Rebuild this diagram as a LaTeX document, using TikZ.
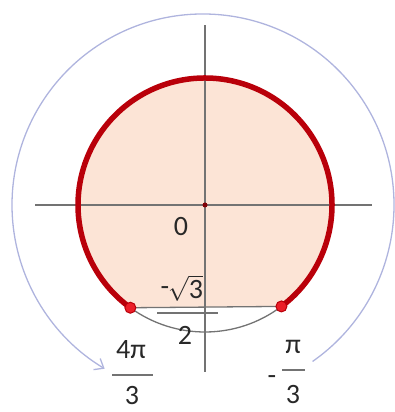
\documentclass[tikz,border=0pt]{standalone}
\usepackage{fontspec}
\setmainfont{Carlito}
\usetikzlibrary{arrows.meta}
\definecolor{rim}{RGB}{185,0,10}
\definecolor{peach}{RGB}{252,228,214}
\definecolor{lav}{RGB}{175,180,222}
\definecolor{axisgray}{RGB}{115,115,115}
\definecolor{dotred}{RGB}{235,30,40}
\definecolor{ink}{RGB}{40,40,40}
\begin{document}
\begin{tikzpicture}[x=1pt,y=1pt,
  lbl/.style={inner sep=0pt, font=\fontsize{28}{30}\selectfont, text=ink},
  fracbar/.style={draw=axisgray, line width=1.3pt},
  axisline/.style={draw=axisgray, line width=1.4pt},
  pointdot/.style={circle, fill=dotred, draw=rim, line width=1pt, minimum size=11pt, inner sep=0pt}]
\useasboundingbox (0,0) rectangle (395,412);
\coordinate (O) at (205,207);
\coordinate (C2) at (203,207);
% filled region
\fill[peach] (O) ++(307:127) arc[start angle=307, end angle=594, radius=127] -- cycle;
% outer arrow arc
\draw[lav, line width=1.3pt, -{Straight Barb[length=8pt,width=13pt]}] (C2) ++(-55:191) arc[start angle=-55, end angle=239, radius=191];
% axes
\coordinate (xl) at (35,207);
\coordinate (xr) at (372,207);
\coordinate (yt) at (205,387);
\coordinate (yb) at (205,40);
\draw[axisline] (xl) -- (xr);
\draw[axisline] (yb) -- (yt);
% points
\path (O) ++(234:127) coordinate (L);
\path (O) ++(307:127) coordinate (R);
% chord and lower arc
\draw[axisgray, line width=1.3pt] (L) -- (R);
\draw[axisgray, line width=1.3pt] (L) arc[start angle=234, end angle=307, radius=127];
% thick red arc
\draw[rim, line width=5.5pt] (R) arc[start angle=307, end angle=594, radius=127];
\node[pointdot] (pL) at (L) {};
\node[pointdot] (pR) at (R) {};
\node[circle, fill=rim!70!black, inner sep=0pt, minimum size=5pt] (o) at (O) {};
% labels
\node[lbl] (zero) at (181,185) {0};
\node[lbl] (m1) at (165,121) {-};
\node[lbl, anchor=west] (sq) at (168,124) {$\sqrt{\mbox{3}}$};
\draw[fracbar] (157,99) -- (218,99);
\node[lbl] (two) at (185,77) {2};
\node[lbl] (fpi) at (131,62) {4π};
\draw[fracbar] (112,37) -- (153,37);
\node[lbl] (three1) at (132,16) {3};
\node[lbl] (m2) at (272,32) {-};
\node[lbl] (pi) at (293,65) {π};
\draw[fracbar] (282,42) -- (305,42);
\node[lbl] (three2) at (293,17) {3};
\end{tikzpicture}
\end{document}
